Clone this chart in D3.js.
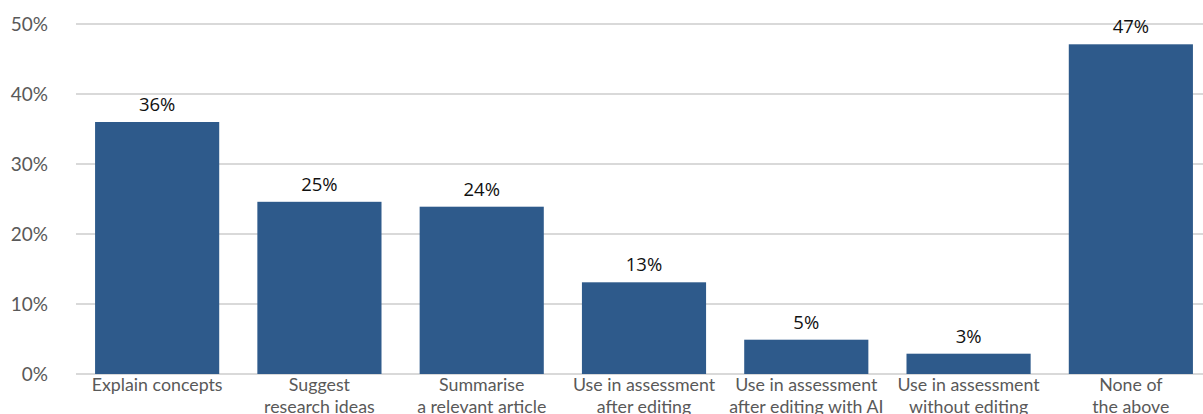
<!DOCTYPE html>
<html><head><meta charset="utf-8">
<script src="https://cdn.jsdelivr.net/npm/d3@7"></script>
<style>body{margin:0;background:#fff;overflow:hidden}svg{display:block}</style>
</head><body>
<svg id="c" width="1203" height="414"></svg>
<script>
const categories = [
  ["Explain concepts"],
  ["Suggest", "research ideas"],
  ["Summarise", "a relevant article"],
  ["Use in assessment", "after editing"],
  ["Use in assessment", "after editing with AI"],
  ["Use in assessment", "without editing"],
  ["None of", "the above"]
];
const values = [36.0, 24.6, 23.9, 13.1, 4.9, 2.9, 47.1];
const yTicks = [0, 10, 20, 30, 40, 50];

const svg = d3.select("#c");
const x = d3.scaleBand().domain(d3.range(categories.length)).range([76, 1212]).paddingInner(0.235).paddingOuter(0.1175);
const y = d3.scaleLinear().domain([0, 50]).range([374, 24]);

// gridlines
svg.append("g").selectAll("line").data(yTicks).join("line")
  .attr("x1", 76).attr("x2", 1203)
  .attr("y1", d => y(d)).attr("y2", d => y(d))
  .attr("stroke", "#d9d9d9").attr("stroke-width", 2);

// y tick labels
const yAxis = d3.axisLeft(y).tickValues(yTicks).tickFormat(d => d + "%").tickSize(0).tickPadding(0);
const ga = svg.append("g").attr("transform", "translate(48,0)").call(yAxis);
ga.select(".domain").remove();
ga.selectAll("text").attr("font-family", "Lato, 'Open Sans', sans-serif").attr("font-size", 19).attr("fill", "#595959");

// bars
svg.append("g").selectAll("rect").data(values).join("rect")
  .attr("x", (d, i) => x(i)).attr("width", x.bandwidth())
  .attr("y", d => y(d)).attr("height", d => y(0) - y(d))
  .attr("fill", "#2E5A8B");

// value labels
svg.append("g").selectAll("text").data(values).join("text")
  .attr("x", (d, i) => x(i) + x.bandwidth() / 2)
  .attr("y", d => y(d) - 11)
  .attr("text-anchor", "middle")
  .attr("font-family", "'Open Sans', sans-serif").attr("font-size", 18.5).attr("fill", "#111")
  .text(d => d3.format(".0f")(d) + "%");

// category labels
const cg = svg.append("g").selectAll("text").data(categories).join("text")
  .attr("x", (d, i) => x(i) + x.bandwidth() / 2)
  .attr("y", 391)
  .attr("text-anchor", "middle")
  .attr("font-family", "Lato, sans-serif").attr("font-size", 17.8).attr("fill", "#595959");
cg.selectAll("tspan").data(d => d).join("tspan")
  .attr("x", function() { return this.parentNode.getAttribute("x"); })
  .attr("dy", (d, i) => i === 0 ? 0 : 22)
  .text(d => d);
</script>
</body></html>
